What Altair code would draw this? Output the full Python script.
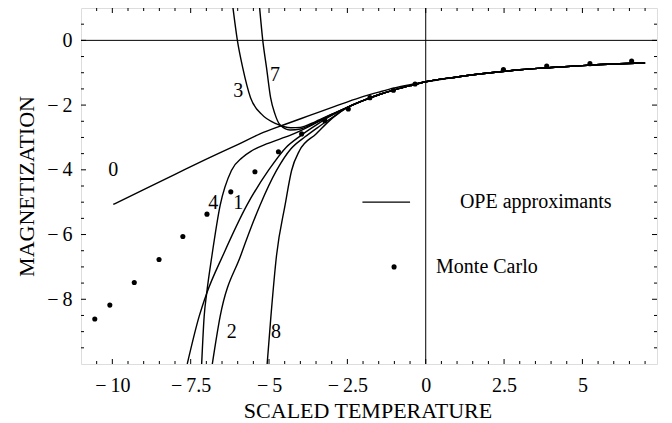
import altair as alt
import numpy as np
import pandas as pd

FONT = "Liberation Serif"
W, H = 576, 356
X_DOMAIN = [-11, 7.38]
Y_DOMAIN = [-10, 1]

# ---- common high-temperature tail shared by all OPE approximants ----
tail_x = [-2.5, -2.0, -1.5, -1.0, -0.5, 0.0, 1.0, 2.0, 3.0, 4.0, 5.0, 6.0, 7.0]
tail_y = [-2.07, -1.86, -1.68, -1.53, -1.40, -1.28, -1.13, -1.01, -0.91, -0.84, -0.78, -0.73, -0.70]

# ---- OPE approximant curves (low-temperature parts) ----
c0_x = [-9.97, -9.0, -8.0, -7.0, -6.0, -5.29, -4.5, -3.7, -2.9, -2.1, -1.5, -1.0, -0.5, 0.0]
c0_y = [-5.07, -4.61, -4.14, -3.67, -3.22, -2.89, -2.60, -2.32, -2.04, -1.77, -1.60, -1.47, -1.37, -1.28]

c1_x = [-7.61, -7.23, -6.99, -6.45, -5.71, -5.02, -4.45, -4.0, -3.5, -3.0]
c1_y = [-10.0, -8.53, -7.82, -6.60, -5.10, -4.02, -3.30, -2.95, -2.62, -2.32]

c2_x = [-6.81, -6.56, -5.90, -5.29, -4.76, -4.30, -3.85, -3.40, -2.95]
c2_y = [-10.0, -8.53, -6.64, -5.10, -4.02, -3.35, -2.98, -2.66, -2.36]

c3_x = [-6.15, -6.01, -5.84, -5.59, -5.24, -4.76, -4.30, -4.00, -3.50, -3.00]
c3_y = [1.0, 0.0, -0.84, -1.77, -2.28, -2.58, -2.70, -2.69, -2.50, -2.28]

c4_x = [-7.15, -7.07, -6.99, -6.82, -6.56, -6.20, -5.85, -5.55, -5.08, -4.60, -4.20, -3.60, -3.00]
c4_y = [-10.0, -8.53, -7.82, -6.64, -5.10, -4.02, -3.62, -3.41, -3.20, -3.03, -2.88, -2.60, -2.30]

c7_x = [-5.30, -5.20, -5.08, -4.95, -4.81, -4.65, -4.33, -4.00, -3.50, -3.00]
c7_y = [1.0, 0.0, -0.84, -1.77, -2.28, -2.61, -2.77, -2.74, -2.53, -2.29]

c8_x = [-5.06, -4.94, -4.76, -4.49, -4.28, -4.03, -3.50, -2.95]
c8_y = [-10.0, -8.53, -6.64, -5.10, -4.02, -3.41, -2.89, -2.38]

# ---- Monte Carlo data ----
mc_x = [-10.56, -10.08, -9.30, -8.51, -7.75, -6.98, -6.22, -5.45, -4.70, -3.96,
        -3.22, -2.47, -1.78, -1.03, -0.34, 2.48, 3.86, 5.24, 6.57]
mc_y = [-8.61, -8.18, -7.48, -6.77, -6.06, -5.37, -4.68, -4.06, -3.44, -2.89,
        -2.48, -2.12, -1.77, -1.54, -1.35, -0.90, -0.79, -0.72, -0.64]

# ---- curve labels ----
lab_text = ["0", "1", "2", "3", "4", "7", "8"]
lab_x = [-9.97, -5.98, -6.19, -5.98, -6.78, -4.81, -4.78]
lab_y = [-4.02, -5.03, -9.00, -1.56, -5.03, -1.07, -9.00]

# ---- legend (drawn inside the plot) ----
leg_line_x = [-2.02, -0.50]
leg_line_y = [-5.0, -5.0]
leg_pt_x = [-1.01]
leg_pt_y = [-7.0]
leg_text = ["OPE approximants", "Monte Carlo"]
leg_text_x = [1.09, 0.33]
leg_text_y = [-5.0, -7.0]

# ---- axis ticks ----
x_major = [-10, -7.5, -5, -2.5, 0, 2.5, 5]
y_major = [0, -2, -4, -6, -8]
x_minor = [v for v in np.arange(-10.5, 7.4, 0.5) if v not in x_major]
y_minor = [v for v in np.arange(-9.5, 1.0, 0.5) if v not in y_major]

curves = {
    "0": (c0_x, c0_y),
    "1": (c1_x, c1_y),
    "2": (c2_x, c2_y),
    "3": (c3_x, c3_y),
    "4": (c4_x, c4_y),
    "7": (c7_x, c7_y),
    "8": (c8_x, c8_y),
}
rows = []
for name, (xs_, ys_) in curves.items():
    for x, y in zip(xs_, ys_):
        rows.append({"curve": name, "x": x, "y": y})
    start = 6 if name == "0" else 0  # curve 0 already covers up to x = 0
    for x, y in zip(tail_x[start:], tail_y[start:]):
        rows.append({"curve": name, "x": x, "y": y})
df_curves = pd.DataFrame(rows)

df_mc = pd.DataFrame({"x": mc_x, "y": mc_y})
df_lab = pd.DataFrame({"x": lab_x, "y": lab_y, "t": lab_text})
df_leg_line = pd.DataFrame({"x": leg_line_x, "y": leg_line_y})
df_leg_pt = pd.DataFrame({"x": leg_pt_x, "y": leg_pt_y})
df_leg_text = pd.DataFrame({"x": leg_text_x, "y": leg_text_y, "t": leg_text})

xs = alt.Scale(domain=X_DOMAIN, nice=False, zero=False)
ys = alt.Scale(domain=Y_DOMAIN, nice=False, zero=False)

lab_expr = ("datum.value < 0 ? '\u2212\u2009' + format(abs(datum.value), '.1~f') "
            ": format(datum.value, '.1~f')")

x_axis = alt.Axis(
    values=x_major, labelExpr=lab_expr, ticks=False, domain=False, grid=False,
    labelFont=FONT, labelFontSize=20, labelColor="black", labelPadding=11,
    labelFlush=False, titleFont=FONT, titleFontSize=22, titleFontWeight="normal",
    titleColor="black", titleX=286.5, titleY=53, titleBaseline="alphabetic",
    titleAlign="center",
)
y_axis = alt.Axis(
    values=y_major, labelExpr=lab_expr, ticks=False, domain=False, grid=False,
    labelFont=FONT, labelFontSize=20, labelColor="black", labelPadding=9,
    labelFlush=False, titleFont=FONT, titleFontSize=22, titleFontWeight="normal",
    titleColor="black", titleX=-48, titleY=178, titleAngle=270,
    titleBaseline="alphabetic", titleAlign="center",
)


def X(field):
    return alt.X(field, type="quantitative", scale=xs, axis=x_axis, title="SCALED TEMPERATURE")


def Y(field):
    return alt.Y(field, type="quantitative", scale=ys, axis=y_axis, title="MAGNETIZATION")


lines = alt.Chart(df_curves).mark_line(
    color="black", strokeWidth=1.4, interpolate="monotone", clip=True
).encode(x=X("x"), y=Y("y"), detail="curve:N")

zero_v = alt.Chart(pd.DataFrame({"v": [0]})).mark_rule(color="black", strokeWidth=1).encode(x=X("v"))
zero_h = alt.Chart(pd.DataFrame({"v": [0]})).mark_rule(color="black", strokeWidth=1).encode(y=Y("v"))

points = alt.Chart(df_mc).mark_circle(color="black", size=26, opacity=1).encode(x=X("x"), y=Y("y"))

labels = alt.Chart(df_lab).mark_text(
    font=FONT, fontSize=20, color="black", align="center", baseline="middle"
).encode(x=X("x"), y=Y("y"), text="t:N")

leg_line = alt.Chart(df_leg_line).mark_line(color="black", strokeWidth=1.3).encode(x=X("x"), y=Y("y"))
leg_pt = alt.Chart(df_leg_pt).mark_circle(color="black", size=26, opacity=1).encode(x=X("x"), y=Y("y"))
leg_txt = alt.Chart(df_leg_text).mark_text(
    font=FONT, fontSize=20, color="black", align="left", baseline="middle"
).encode(x=X("x"), y=Y("y"), text="t:N")


def xticks(vals, length, side):
    d = pd.DataFrame({"v": vals})
    if side == "bottom":
        yv, y2v = H, H - length
    else:
        yv, y2v = 0, length
    return alt.Chart(d).mark_rule(color="black", strokeWidth=1).encode(
        x=X("v"), y=alt.value(yv), y2=alt.value(y2v))


def yticks(vals, length, side):
    d = pd.DataFrame({"v": vals})
    if side == "left":
        xv, x2v = 0, length
    else:
        xv, x2v = W, W - length
    return alt.Chart(d).mark_rule(color="black", strokeWidth=1).encode(
        y=Y("v"), x=alt.value(xv), x2=alt.value(x2v))


MAJ, MIN = 5, 3
tick_layers = [
    xticks(x_major, MAJ, "bottom"), xticks(x_minor, MIN, "bottom"),
    xticks(x_major, MAJ, "top"), xticks(x_minor, MIN, "top"),
    yticks(y_major, MAJ, "left"), yticks(y_minor, MIN, "left"),
    yticks(y_major, MAJ, "right"), yticks(y_minor, MIN, "right"),
]

chart = alt.layer(
    lines, zero_v, zero_h, points, labels, leg_line, leg_pt, leg_txt, *tick_layers
).properties(
    width=W, height=H,
    autosize=alt.AutoSizeParams(type="none"),
    padding={"left": 73, "top": 0, "right": 7, "bottom": 60},
).configure_view(
    stroke="black", strokeWidth=1
).configure(background="white")

chart.save("out.html", embed_options={"renderer": "svg", "actions": False})
